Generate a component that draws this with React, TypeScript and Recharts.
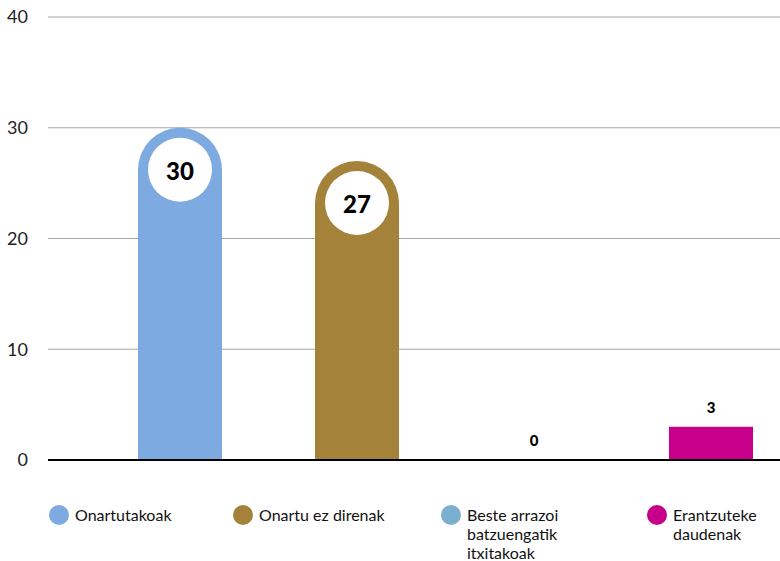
import { BarChart, Bar, XAxis, YAxis, CartesianGrid, LabelList } from "recharts";

const categories = [
  "Onartutakoak",
  "Onartu ez direnak",
  "Beste arrazoi batzuengatik itxitakoak",
  "Erantzuteke daudenak",
];
const counts = [30, 27, 0, 3];
const yTicks = [0, 10, 20, 30, 40];
const colors = ["#7eaae2", "#a5823a", "#7aafd0", "#c6008b"];
const pillStyle = [true, true, false, false];

const data = categories.map((name, i) => ({
  name,
  value: counts[i],
  color: colors[i],
  pill: pillStyle[i],
}));

const font = "Lato, 'Open Sans', sans-serif";

function BarShape(props: any) {
  const { x, y, width, height, payload } = props;
  if (!height || height <= 0) return null;
  if (payload.pill) {
    const r = width / 2;
    const d = `M${x},${y + height} L${x},${y + r} A${r},${r} 0 0 1 ${x + width},${y + r} L${x + width},${y + height} Z`;
    return (
      <g>
        <path d={d} fill={payload.color} />
        <circle cx={x + r} cy={y + r} r={r - 10} fill="#fff" />
        <text
          x={x + r}
          y={y + r + 1}
          textAnchor="middle"
          dominantBaseline="central"
          fontFamily={font}
          fontWeight={900}
          fontSize={24}
          fill="#000"
        >
          {payload.value}
        </text>
      </g>
    );
  }
  return <rect x={x} y={y} width={width} height={height} fill={payload.color} />;
}

function SmallLabel(props: any) {
  const { x, y, width, value, index } = props;
  const i = index ?? counts.indexOf(value);
  if (pillStyle[i]) return null;
  return (
    <text
      x={x + width / 2}
      y={y - 20}
      textAnchor="middle"
      dominantBaseline="central"
      fontFamily={font}
      fontWeight={900}
      fontSize={15}
      fill="#000"
    >
      {value}
    </text>
  );
}

export default function App() {
  return (
    <div style={{ position: "absolute", top: 0, left: 0, width: 780, height: 561, background: "#fff" }}>
      <BarChart
        width={780}
        height={480}
        data={data}
        margin={{ top: 17, right: 0, bottom: 0, left: 0 }}
      >
        <CartesianGrid vertical={false} stroke="#a6a6a6" />
        <XAxis
          dataKey="name"
          tick={false}
          tickLine={false}
          height={20}
          axisLine={{ stroke: "#000", strokeWidth: 2 }}
          padding={{ left: 43, right: -19 }}
        />
        <YAxis
          domain={[0, 40]}
          ticks={yTicks}
          width={48}
          axisLine={false}
          tickLine={false}
          tickMargin={14}
          tick={{ fontSize: 18, fill: "#222", fontFamily: font }}
        />
        <Bar dataKey="value" barSize={84} shape={BarShape} isAnimationActive={false}>
          <LabelList dataKey="value" content={SmallLabel} />
        </Bar>
      </BarChart>
      <div
        style={{
          display: "flex",
          paddingLeft: 49,
          marginTop: 25,
          fontFamily: font,
          fontSize: 16,
          lineHeight: "19px",
          color: "#111",
        }}
      >
        {categories.map((name, i) => (
          <div key={name} style={{ display: "flex", alignItems: "flex-start", width: [184, 208, 206, 130][i] }}>
            <span
              style={{
                width: 20,
                height: 20,
                borderRadius: 10,
                background: colors[i],
                flexShrink: 0,
                marginRight: 6,
              }}
            />
            <span style={{ maxWidth: i >= 2 ? 110 : 170 }}>{name}</span>
          </div>
        ))}
      </div>
    </div>
  );
}
